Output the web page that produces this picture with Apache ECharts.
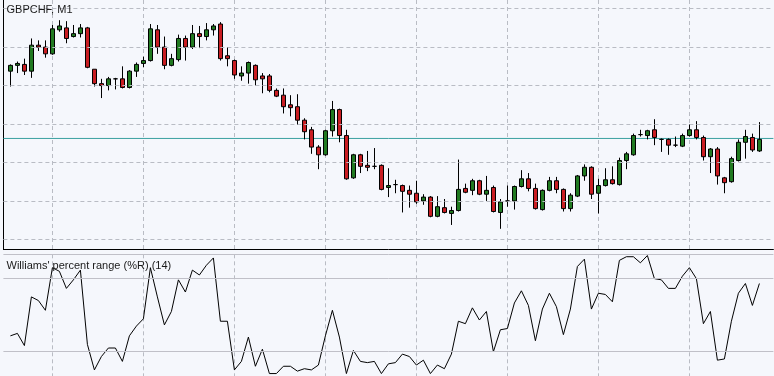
<!DOCTYPE html>
<html><head><meta charset="utf-8">
<script src="https://cdn.jsdelivr.net/npm/echarts@6/dist/echarts.min.js"></script>
<style>html,body{margin:0;padding:0;background:#f5f7fc;}#c{width:774px;height:376px;}</style>
</head><body><div id="c"></div>
<script>
const symbolTitle = 'GBPCHF, M1';
const indicatorTitle = "Williams' percent range (%R) (14)";

const opens = [
1.21175,1.21181,1.21182,1.21175,1.21202,1.21200,1.21193,1.21218,1.21220,1.21211,
1.21214,1.21220,1.21177,1.21162,1.21160,1.21167,1.21167,1.21158,1.21175,1.21183,
1.21186,1.21218,1.21200,1.21181,1.21187,1.21209,1.21200,1.21214,1.21211,1.21218,
1.21224,1.21191,1.21186,1.21170,1.21173,1.21181,1.21170,1.21170,1.21155,1.21150,
1.21140,1.21138,1.21124,1.21114,1.21096,1.21088,1.21113,1.21135,1.21108,1.21064,
1.21088,1.21077,1.21076,1.21077,1.21054,1.21057,1.21056,1.21051,1.21048,1.21040,
1.21044,1.21024,1.21033,1.21027,1.21030,1.21053,1.21051,1.21061,1.21047,1.21054,
1.21028,1.21040,1.21040,1.21055,1.21063,1.21053,1.21031,1.21051,1.21061,1.21052,
1.21032,1.21045,1.21066,1.21075,1.21048,1.21056,1.21062,1.21057,1.21082,1.21088,
1.21109,1.21108,1.21114,1.21104,1.21104,1.21098,1.21097,1.21108,1.21114,1.21106,
1.21086,1.21094,1.21064,1.21060,1.21082,1.21101,1.21106,1.21092];
const closes = [
1.21181,1.21183,1.21175,1.21202,1.21200,1.21193,1.21219,1.21222,1.21209,1.21214,
1.21220,1.21179,1.21162,1.21160,1.21167,1.21167,1.21158,1.21175,1.21182,1.21186,
1.21219,1.21200,1.21181,1.21188,1.21209,1.21200,1.21214,1.21211,1.21218,1.21222,
1.21188,1.21188,1.21171,1.21173,1.21184,1.21166,1.21167,1.21155,1.21149,1.21138,
1.21137,1.21124,1.21112,1.21096,1.21088,1.21113,1.21135,1.21108,1.21063,1.21088,
1.21076,1.21075,1.21076,1.21052,1.21056,1.21057,1.21050,1.21047,1.21039,1.21044,
1.21024,1.21034,1.21028,1.21030,1.21052,1.21049,1.21061,1.21047,1.21051,1.21029,
1.21039,1.21040,1.21055,1.21063,1.21053,1.21032,1.21051,1.21061,1.21052,1.21032,
1.21046,1.21066,1.21075,1.21047,1.21056,1.21062,1.21058,1.21082,1.21089,1.21108,
1.21109,1.21113,1.21106,1.21104,1.21098,1.21098,1.21108,1.21114,1.21106,1.21086,
1.21094,1.21066,1.21059,1.21084,1.21101,1.21107,1.21093,1.21104];
const lows = [
1.21159,1.21173,1.21171,1.21168,1.21196,1.21189,1.21192,1.21216,1.21204,1.21210,
1.21210,1.21178,1.21159,1.21147,1.21155,1.21156,1.21157,1.21157,1.21169,1.21179,
1.21185,1.21193,1.21177,1.21180,1.21185,1.21186,1.21198,1.21199,1.21207,1.21212,
1.21186,1.21180,1.21167,1.21165,1.21162,1.21160,1.21152,1.21153,1.21148,1.21131,
1.21128,1.21119,1.21104,1.21089,1.21073,1.21087,1.21107,1.21101,1.21062,1.21063,
1.21069,1.21071,1.21073,1.21051,1.21044,1.21048,1.21028,1.21033,1.21037,1.21036,
1.21023,1.21023,1.21027,1.21015,1.21029,1.21048,1.21046,1.21046,1.21040,1.21028,
1.21011,1.21034,1.21031,1.21054,1.21050,1.21031,1.21030,1.21050,1.21048,1.21029,
1.21029,1.21044,1.21061,1.21042,1.21027,1.21055,1.21057,1.21056,1.21073,1.21087,
1.21107,1.21104,1.21098,1.21091,1.21088,1.21096,1.21096,1.21107,1.21104,1.21082,
1.21069,1.21057,1.21048,1.21059,1.21081,1.21084,1.21091,1.21091];
const highs = [
1.21182,1.21185,1.21188,1.21209,1.21207,1.21207,1.21223,1.21228,1.21227,1.21223,
1.21224,1.21221,1.21177,1.21167,1.21169,1.21168,1.21180,1.21176,1.21184,1.21190,
1.21224,1.21223,1.21211,1.21193,1.21213,1.21212,1.21223,1.21222,1.21225,1.21224,
1.21226,1.21200,1.21187,1.21180,1.21185,1.21182,1.21173,1.21172,1.21157,1.21157,
1.21150,1.21151,1.21126,1.21117,1.21098,1.21114,1.21144,1.21136,1.21114,1.21089,
1.21089,1.21092,1.21095,1.21078,1.21074,1.21062,1.21057,1.21056,1.21061,1.21047,
1.21045,1.21045,1.21042,1.21034,1.21083,1.21058,1.21063,1.21062,1.21066,1.21056,
1.21042,1.21056,1.21056,1.21072,1.21069,1.21058,1.21052,1.21065,1.21065,1.21053,
1.21048,1.21067,1.21078,1.21076,1.21063,1.21074,1.21076,1.21085,1.21091,1.21110,
1.21114,1.21114,1.21125,1.21105,1.21105,1.21107,1.21110,1.21120,1.21123,1.21108,
1.21095,1.21096,1.21065,1.21086,1.21104,1.21114,1.21110,1.21122];
const wpr = [
-67,-65,-75,-35,-38,-46,-11,-14,-28,-21,
-13,-74,-95,-84,-77,-77,-88,-67,-59,-53,
-11,-35,-58,-47,-21,-31,-13,-17,-9,-3,
-55,-55,-95,-88,-68,-92,-78,-98,-98,-92,
-92,-96,-94,-95,-91,-67,-46,-68,-98,-79,
-88,-89,-88,-98,-90,-89,-82,-84,-91,-87,
-98,-91,-94,-82,-55,-57,-44,-54,-47,-80,
-62,-61,-40,-30,-42,-71,-45,-32,-43,-66,
-45,-10,-4,-45,-32,-33,-39,-5,-2,-2,
-7,-1,-20,-21,-28,-28,-18,-11,-20,-57,
-47,-87,-86,-55,-32,-24,-42,-24];
const bidPrice = 1.21105;
const wprLevels = [0, -20, -80];
// horizontal price grid levels of the main pane
const priceGrid = [1.2100, 1.2104, 1.2108, 1.2112, 1.2116, 1.2120, 1.2124];

// category slots: one empty slot before the first bar, two after the last bar (chart shift)
const barLabels = opens.map((_, i) => String(i + 1));
const categories = [''].concat(barLabels, ['', '']);

const candleData = opens.map((o, i) => [i + 1, o, closes[i], lows[i], highs[i]]);
const wprData = wpr.map((v, i) => [i + 1, v]);
const lastSlot = categories.length - 1;
const bidData = [[0, bidPrice], [lastSlot, bidPrice]];

const BG = '#f5f7fc';
const GRID_COLOR = '#b9bcc4';
const gridInterval = (idx) => idx >= 7 && (idx - 7) % 13 === 0;
const txt = { fontFamily: 'Liberation Sans, Arial, sans-serif', fontSize: 11, fontWeight: 'normal', color: '#1a1a1a' };

const chart = echarts.init(document.getElementById('c'), null, { renderer: 'canvas' });
chart.setOption({
  animation: false,
  backgroundColor: BG,
  title: [
    { text: symbolTitle, left: 6.5, top: 4, padding: 0, textStyle: txt },
    { text: indicatorTitle, left: 6.5, top: 260, padding: 0, textStyle: txt }
  ],
  grid: [
    { left: 3.4, right: 0.6, top: 0, height: 249 },
    { left: 3.4, right: 0.6, top: 254.3, height: 123.4 }
  ],
  xAxis: [
    { type: 'category', gridIndex: 0, data: categories, boundaryGap: false,
      axisLine: { show: true, onZero: false, lineStyle: { color: '#000', width: 1 } },
      axisTick: { show: false }, axisLabel: { show: false },
      splitLine: { show: true, interval: gridInterval, lineStyle: { color: GRID_COLOR, type: [4, 3], width: 1 } } },
    { type: 'category', gridIndex: 1, data: categories, boundaryGap: false, position: 'top',
      axisLine: { show: false }, axisTick: { show: false }, axisLabel: { show: false },
      splitLine: { show: true, interval: gridInterval, lineStyle: { color: GRID_COLOR, type: [4, 3], width: 1 } } }
  ],
  yAxis: [
    { type: 'value', gridIndex: 0, min: 1.20990, max: 1.21249,
      axisLine: { show: true, onZero: false, lineStyle: { color: '#000', width: 1 } },
      axisTick: { show: false }, axisLabel: { show: false },
      splitLine: { show: false } },
    { type: 'value', gridIndex: 1, min: -100, max: 0,
      axisLine: { show: false }, axisTick: { show: false }, axisLabel: { show: false },
      splitLine: { show: false } }
  ],
  series: [
    { type: 'line', name: 'bid', xAxisIndex: 0, yAxisIndex: 0, data: bidData, silent: true, symbol: 'none',
      lineStyle: { color: '#3aa0a0', type: 'solid', width: 1 }, z: 1,
      markLine: { silent: true, symbol: 'none', label: { show: false }, precision: 5,
        lineStyle: { color: GRID_COLOR, type: [4, 3], width: 1 },
        data: priceGrid.map(v => ({ yAxis: v })) } },
    { type: 'candlestick', xAxisIndex: 0, yAxisIndex: 0, data: candleData,
      encode: { x: 0, y: [1, 2, 3, 4] }, barWidth: 5, clip: false, silent: true, z: 2,
      itemStyle: { color: '#217a21', color0: '#c91d22', borderColor: '#000', borderColor0: '#000', borderWidth: 1 } },
    { type: 'line', xAxisIndex: 1, yAxisIndex: 1, data: wprData, symbol: 'none', silent: true,
      lineStyle: { color: '#000', width: 1 },
      markLine: { silent: true, symbol: 'none', label: { show: false },
        lineStyle: { color: '#c0c0c8', type: 'solid', width: 1 },
        data: wprLevels.map(v => ({ yAxis: v })) } }
  ]
});
</script>
</body></html>
